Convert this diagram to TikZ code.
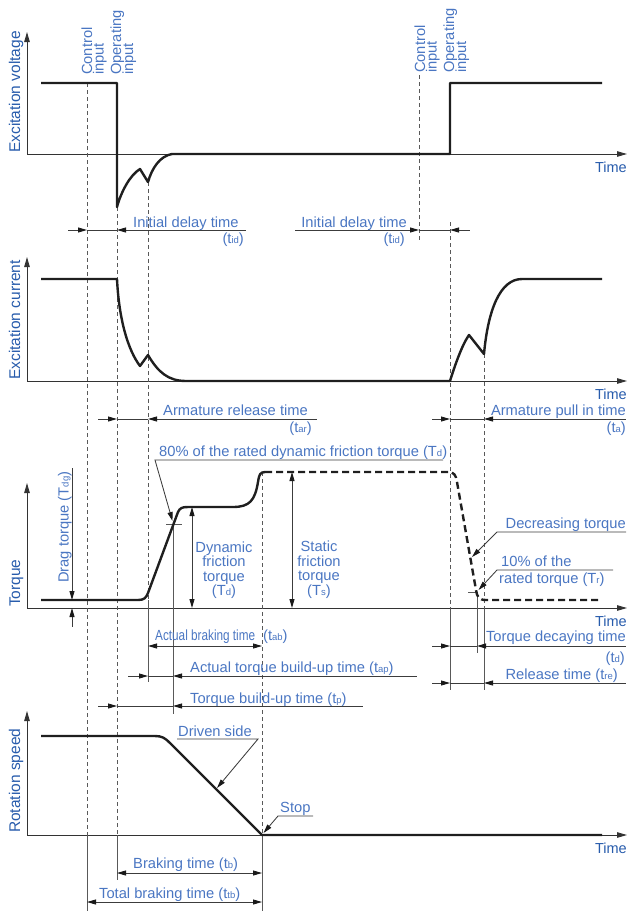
\documentclass[tikz,border=0pt]{standalone}
\usepackage{fontspec}
\usepackage{graphicx}
\setmainfont{Liberation Sans}
\usetikzlibrary{arrows.meta}
\definecolor{lblue}{RGB}{74,118,194}
\definecolor{ablue}{RGB}{40,92,172}
\definecolor{dimc}{RGB}{60,60,60}
\newcommand\lsub[1]{{\fontsize{9.5}{10}\selectfont #1}}
\begin{document}
\begin{tikzpicture}[x=1pt,y=-1pt,
 lbl/.style={text=lblue,font=\fontsize{14.7}{14.5}\selectfont,inner sep=0pt},
 axl/.style={text=ablue,font=\fontsize{15.5}{16}\selectfont,inner sep=0pt,rotate=90,anchor=base west},
 tlbl/.style={text=ablue,font=\fontsize{14.5}{15}\selectfont,inner sep=0pt,anchor=base east},
 curve/.style={line width=2.4pt,black!88,line join=round},
 axis/.style={line width=0.9pt,black!80,-{Triangle[length=10pt,width=5.5pt]}},
 guide/.style={line width=0.8pt,black!65,dash pattern=on 4pt off 3pt},
 guides/.style={line width=0.8pt,black!65},
 dim/.style={line width=0.85pt,dimc},
 >={Triangle[length=9pt,width=5pt,color=black!90]}]
\useasboundingbox (0,0) rectangle (628,911);

% ---------- axes
\draw[axis] (27,154) -- (27,32);
\draw[axis] (27,154) -- (627,154);
\draw[axis] (27,381) -- (27,257);
\draw[axis] (27,381) -- (627,381);
\draw[axis] (27,608) -- (27,483);
\draw[axis] (27,608) -- (627,608);
\draw[axis] (27,835) -- (27,711);
\draw[axis] (27,835) -- (627,835);

\node[axl] (yv) at (20,153) {Excitation voltage};
\node[axl] (yc) at (20,380) {Excitation current};
\node[axl] (yt) at (20,607) {Torque};
\node[axl] (ys) at (20,833) {Rotation speed};
\node[tlbl] (t1) at (627,172) {Time};
\node[tlbl] (t2) at (627,399) {Time};
\node[tlbl] (t3) at (627,626) {Time};
\node[tlbl] (t4) at (627,853) {Time};

% ---------- guide lines
\draw[guide] (87,83) -- (87,835);   \draw[guides] (87,835) -- (87,911);
\draw[guide] (117,207) -- (117,835); \draw[guides] (117,835) -- (117,880);
\draw[guide] (148,182) -- (148,600); \draw[guides] (148,600) -- (148,682);
\draw[guides] (173,524) -- (173,714); \draw[guides] (166,524) -- (182,524);
\draw[guide] (262,472) -- (262,835); \draw[guides] (262,835) -- (262,911);
\draw[guide] (419,75) -- (419,240);
\draw[guide] (450,222) -- (450,608); \draw[guides] (450,608) -- (450,690);
\draw[guide] (484,354) -- (484,608); \draw[guides] (484,608) -- (484,690);
\draw[guides] (468,592) -- (478,592); \draw[guides] (477,592) -- (477,653);

% ---------- curves
\draw[curve] (41,83) -- (117,83) -- (117,207) .. controls (121,192) and (130,175) .. (140,169) -- (148,182) .. controls (152,168) and (160,156) .. (172,154) -- (450,154) -- (450,83) -- (602,83);
\draw[curve] (41,279) -- (117,279) .. controls (119,320) and (128,350) .. (140,366) -- (148,355) .. controls (158,372) and (168,381) .. (186,381) -- (450,381) .. controls (455,365) and (462,345) .. (469,335) -- (484,354) .. controls (488,310) and (500,279) .. (522,279) -- (602,279);
\draw[curve] (41,600) -- (138,600) .. controls (144,600) and (146,598) .. (148,593) -- (178,512) .. controls (180,508) and (182,507) .. (188,507) -- (233,507) .. controls (250,507) and (255,500) .. (258,482) .. controls (259,475) and (260,472) .. (265,472);
\draw[curve,dash pattern=on 7pt off 4pt] (265,472) -- (448,472) .. controls (454,472) and (456,475) .. (457,482) -- (476,590) .. controls (477,597) and (479,600) .. (486,600) -- (602,600);
\draw[curve] (41,736) -- (155,736) .. controls (162,736) and (165,738) .. (170,743) -- (262,835) -- (602,835);

% ---------- input labels
\node[lbl,rotate=90,anchor=base west] (c1a) at (92,75) {Control};
\node[lbl,rotate=90,anchor=base west] (c1b) at (103.5,75) {input};
\node[lbl,rotate=90,anchor=base west] (o1a) at (121,75) {Operating};
\node[lbl,rotate=90,anchor=base west] (o1b) at (133,75) {input};
\node[lbl,rotate=90,anchor=base west] (c2a) at (425,73) {Control};
\node[lbl,rotate=90,anchor=base west] (c2b) at (436.5,73) {input};
\node[lbl,rotate=90,anchor=base west] (o2a) at (454,73) {Operating};
\node[lbl,rotate=90,anchor=base west] (o2b) at (466,73) {input};

% ---------- initial delay
\draw[dim,->] (68,230) -- (87,230); \draw[dim] (87,230) -- (117,230); \draw[dim,<-] (117,230) -- (246,230);
\node[lbl,anchor=base west] (lid1) at (133,227) {Initial delay time};
\node[lbl,anchor=base east] (sid1) at (244,243) {(t\lsub{id})};
\draw[dim,->] (295,230) -- (419,230); \draw[dim] (419,230) -- (450,230); \draw[dim,<-] (450,230) -- (470,230);
\node[lbl,anchor=base east] (lid2) at (407,227) {Initial delay time};
\node[lbl,anchor=base east] (sid2) at (405,243) {(t\lsub{id})};

% ---------- armature times
\draw[dim,->] (98,419) -- (117,419); \draw[dim] (117,419) -- (148,419); \draw[dim,<-] (148,419) -- (317,419);
\node[lbl,anchor=base west] (lar) at (163,415) {Armature release time};
\node[lbl,anchor=base east] (sar) at (312,432) {(t\lsub{ar})};
\draw[dim,->] (432,419) -- (450,419); \draw[dim] (450,419) -- (484,419); \draw[dim,<-] (484,419) -- (626,419);
\node[lbl,anchor=base east] (la) at (626,415) {Armature pull in time};
\node[lbl,anchor=base east] (sa) at (626,432) {(t\lsub{a})};

% ---------- torque annotations
\draw[dim,->] (443,460) -- (155,460) -- (172.5,521);
\node[lbl,anchor=base west] (l80) at (159,456) {80\% of the rated dynamic friction torque (T\lsub{d})};
\draw[dim,<->] (192,507) -- (192,608);
\node[lbl,align=center,anchor=north] (ltd) at (224,541.5) {Dynamic\\friction\\torque\\(T\lsub{d})};
\draw[dim,<->] (292,472) -- (292,608);
\node[lbl,align=center,anchor=north] (lts) at (319,541) {Static\\friction\\torque\\(T\lsub{s})};
\draw[dim,->] (72,468) -- (72,600); \draw[dim,<-] (72,608) -- (72,627);
\node[lbl,rotate=90,anchor=base west] (ldg) at (68.5,583) {Drag torque (T\lsub{dg})};
\draw[dim,->] (626,532) -- (497,532) -- (472,557);
\node[lbl,anchor=base east] (ldec) at (626,528) {Decreasing torque};
\draw[dim,->] (613,570) -- (497,570) -- (478.5,590);
\node[lbl,anchor=base west] (l10a) at (501,566) {10\% of the};
\node[lbl,anchor=base west] (l10b) at (499,583) {rated torque (T\lsub{r})};

% ---------- torque times
\draw[dim,<->] (148,646) -- (262,646);
\node[lbl,anchor=base west] (lab) at (155,640) {\scalebox{0.8}[1]{Actual braking time}};
\node[lbl,anchor=base west] (sab) at (263,640) {(t\lsub{ab})};
\draw[dim,->] (128,676) -- (148,676); \draw[dim] (148,676) -- (173,676); \draw[dim,<-] (173,676) -- (417,676);
\node[lbl,anchor=base west] (lap) at (190,672) {Actual torque build-up time (t\lsub{ap})};
\draw[dim,->] (98,706) -- (117,706); \draw[dim] (117,706) -- (173,706); \draw[dim,<-] (173,706) -- (363,706);
\node[lbl,anchor=base west] (lp) at (190,703) {Torque build-up time (t\lsub{p})};
\draw[dim,->] (432,646) -- (450,646); \draw[dim] (450,646) -- (477,646); \draw[dim,<-] (477,646) -- (626,646);
\node[lbl,anchor=base east] (ldy) at (626,641) {Torque decaying time};
\node[lbl,anchor=base east] (sdy) at (625,662) {(t\lsub{d})};
\draw[dim,->] (432,683) -- (450,683); \draw[dim] (450,683) -- (484,683); \draw[dim,<-] (484,683) -- (626,683);
\node[lbl,anchor=base east] (lre) at (618,679) {Release time (t\lsub{re})};

% ---------- speed annotations
\draw[dim,->] (177,739) -- (258,739) -- (217,788);
\node[lbl,anchor=base west] (ldr) at (178,736) {Driven side};
\draw[dim,->] (313,816) -- (278,816) -- (263.5,833);
\node[lbl,anchor=base west] (lst) at (280,812) {Stop};
\draw[dim,<->] (117,873) -- (262,873);
\node[lbl,anchor=base west] (lb) at (133,868) {Braking time (t\lsub{b})};
\draw[dim,<->] (87,902) -- (262,902);
\node[lbl,anchor=base west] (ltb) at (99,898) {Total braking time (t\lsub{tb})};
\end{tikzpicture}
\end{document}
